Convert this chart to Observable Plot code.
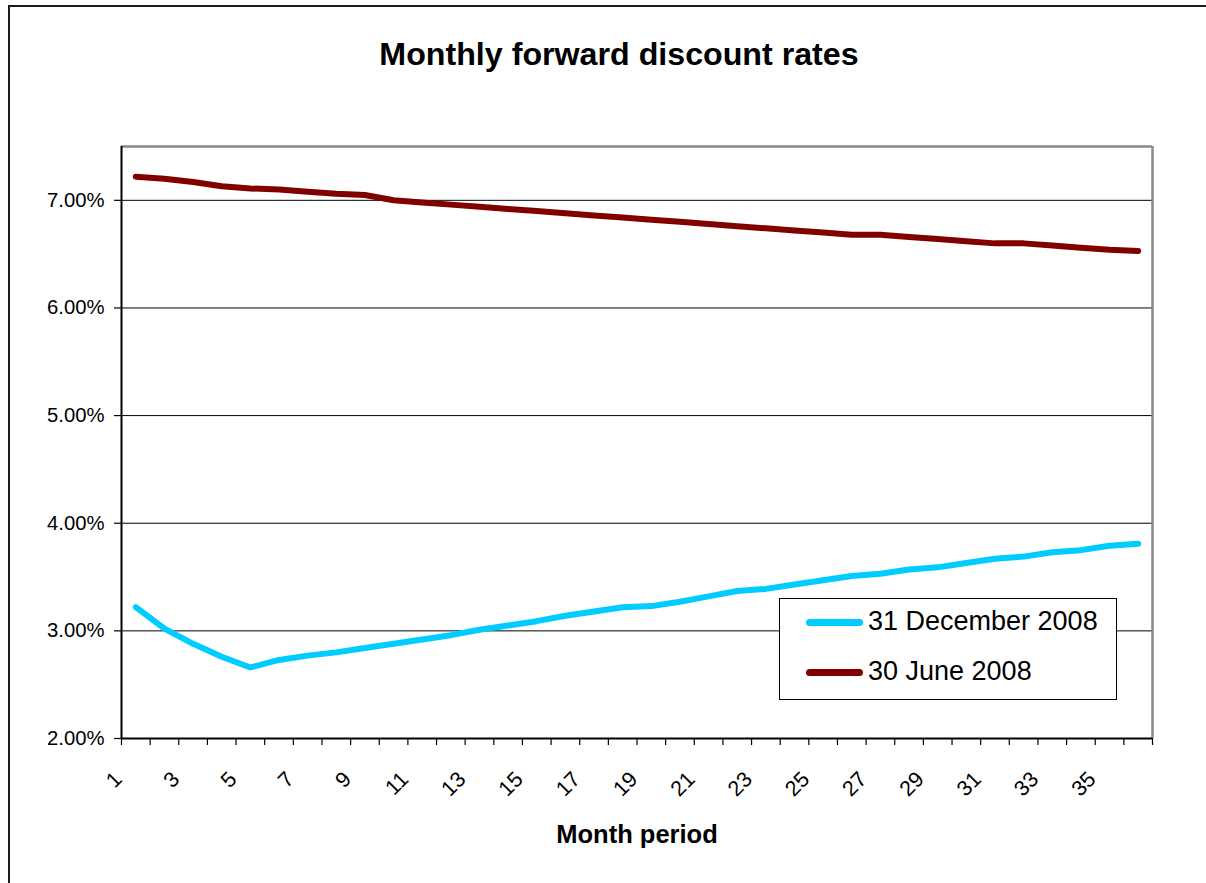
<!DOCTYPE html>
<html>
<head>
<meta charset="utf-8">
<script src="https://cdn.jsdelivr.net/npm/d3@7"></script>
<script src="https://cdn.jsdelivr.net/npm/@observablehq/plot@0.6"></script>
<style>
  html, body { margin: 0; padding: 0; background: #fff; }
  body { font-family: "Liberation Sans", Arial, sans-serif; }
  #wrap { position: relative; width: 1206px; height: 883px; overflow: hidden; background: #fff; }
  #frame { position: absolute; left: 8px; top: 5px; width: 1400px; height: 1000px;
           border-left: 2px solid #1a1a1a; border-top: 2px solid #1a1a1a; }
  #chart { position: absolute; left: 0; top: 0; }
  #chart g[aria-label="x-axis tick label"] { font-size: 21.5px; }
  #chart g[aria-label="y-axis tick label"] { font-size: 20.3px; }
  #title { position: absolute; left: 0; top: 38px; width: 1238px; text-align: center;
           font-weight: bold; font-size: 32.2px; line-height: 1; color: #000; }
  #xlabel { position: absolute; left: 0; top: 822px; width: 1274px; text-align: center;
            font-weight: bold; font-size: 25.5px; line-height: 1; color: #000; }
  #legend { position: absolute; left: 779px; top: 598px; width: 338px; height: 102px;
            border: 1px solid #000; background: #fff; box-sizing: border-box; }
  .sw { position: absolute; left: 26px; width: 57px; height: 7px; border-radius: 3.5px; }
  .lt { position: absolute; left: 88px; font-size: 27px; line-height: 1; color: #000; white-space: nowrap; }
</style>
</head>
<body>
<div id="wrap">
  <div id="frame"></div>
  <div id="chart"></div>
  <div id="title"></div>
  <div id="xlabel"></div>
  <div id="legend"></div>
</div>
<script>
// ---- data ----
const months = [1,2,3,4,5,6,7,8,9,10,11,12,13,14,15,16,17,18,19,20,21,22,23,24,25,26,27,28,29,30,31,32,33,34,35,36];
const monthLabels = [1,3,5,7,9,11,13,15,17,19,21,23,25,27,29,31,33,35];
const seriesNames = ["31 December 2008", "30 June 2008"];
const seriesColors = ["#00CCFF", "#800000"];
const dec2008 = [3.22,3.02,2.88,2.76,2.66,2.73,2.77,2.80,2.84,2.88,2.92,2.96,3.01,3.05,3.09,3.14,3.18,3.22,3.23,3.27,3.32,3.37,3.39,3.43,3.47,3.51,3.53,3.57,3.59,3.63,3.67,3.69,3.73,3.75,3.79,3.81];
const jun2008 = [7.22,7.20,7.17,7.13,7.11,7.10,7.08,7.06,7.05,7.00,6.98,6.96,6.94,6.92,6.90,6.88,6.86,6.84,6.82,6.80,6.78,6.76,6.74,6.72,6.70,6.68,6.68,6.66,6.64,6.62,6.60,6.60,6.58,6.56,6.54,6.53];
const yTicks = [0.02, 0.03, 0.04, 0.05, 0.06, 0.07];
const yDomain = [0.02, 0.075];
const titleText = "Monthly forward discount rates";
const xTitle = "Month period";

// ---- build table ----
const rows = [];
[dec2008, jun2008].forEach((vals, si) => {
  vals.forEach((v, i) => rows.push({series: seriesNames[si], month: months[i], rate: v / 100}));
});
const xDomain = [months[0] - 0.5, months[months.length - 1] + 0.5];
const tickBounds = months.map(m => m - 0.5).concat([months[months.length - 1] + 0.5]);

const chart = Plot.plot({
  width: 1206,
  height: 883,
  marginLeft: 121,
  marginRight: 54,
  marginTop: 146,
  marginBottom: 145,
  style: { fontFamily: "'Liberation Sans', Arial, sans-serif", fontSize: "20px", color: "#000", background: "transparent", overflow: "visible" },
  x: { type: "linear", domain: xDomain, label: null },
  y: { type: "linear", domain: yDomain, label: null },
  color: { domain: seriesNames, range: seriesColors },
  marks: [
    Plot.gridY(yTicks.slice(1), { stroke: "#000", strokeOpacity: 1, strokeWidth: 1 }),
    Plot.ruleY([yDomain[1]], { stroke: "#888", strokeWidth: 2.5 }),
    Plot.ruleX([xDomain[1]], { stroke: "#888", strokeWidth: 2.5 }),
    Plot.axisY(yTicks, { tickSize: 7, tickPadding: 10, tickFormat: d3.format(".2%"), label: null, stroke: "#000", strokeWidth: 1.2 }),
    Plot.axisX(tickBounds, { tickSize: 7, tickFormat: () => "", label: null, stroke: "#000", strokeWidth: 1.2 }),
    Plot.axisX(monthLabels, { tickSize: 0, tickPadding: 0, tickRotate: -45, textAnchor: "end", lineAnchor: "bottom", dx: -12.5, dy: 42, label: null }),
    Plot.ruleX([xDomain[0]], { stroke: "#000", strokeWidth: 2 }),
    Plot.ruleY([yDomain[0]], { stroke: "#000", strokeWidth: 2 }),
    Plot.line(rows, { x: "month", y: "rate", z: "series", stroke: "series", strokeWidth: 6, strokeLinecap: "round", strokeLinejoin: "round" })
  ]
});
document.getElementById("chart").appendChild(chart);

document.getElementById("title").textContent = titleText;
document.getElementById("xlabel").textContent = xTitle;

const legend = document.getElementById("legend");
seriesNames.forEach((name, i) => {
  const sw = document.createElement("div");
  sw.className = "sw";
  sw.style.background = seriesColors[i];
  sw.style.top = (20 + i * 50) + "px";
  legend.appendChild(sw);
  const t = document.createElement("div");
  t.className = "lt";
  t.style.top = (8.5 + i * 50) + "px";
  t.textContent = name;
  legend.appendChild(t);
});
</script>
</body>
</html>
